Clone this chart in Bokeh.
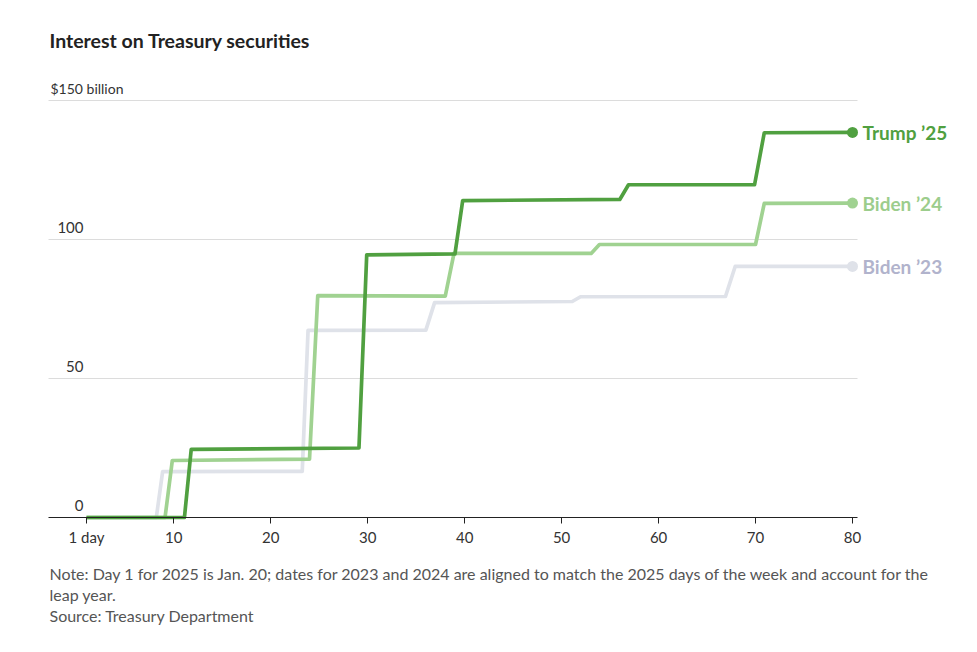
from bokeh.plotting import figure
from bokeh.models import Range1d, FixedTicker, Label
from bokeh.embed import file_html
from bokeh.resources import INLINE

# ---- data ----
trump_days = [1, 11.1, 11.8, 29.1, 29.9, 39.0, 39.8, 56.0, 56.9, 69.9, 70.9, 80]
trump_vals = [0, 0, 24.5, 25.0, 94.5, 94.8, 114.0, 114.4, 119.7, 119.7, 138.4, 138.5]

biden24_days = [1, 9.1, 9.85, 24.0, 24.85, 38.0, 38.9, 53.05, 53.9, 70.0, 70.9, 80]
biden24_vals = [0, 0, 20.5, 21.0, 79.8, 79.6, 95.0, 95.0, 98.2, 98.2, 113.0, 113.1]

biden23_days = [1, 8.2, 8.85, 23.25, 23.85, 36.0, 36.9, 51.1, 51.95, 66.9, 67.9, 80]
biden23_vals = [0, 0, 16.5, 16.6, 67.3, 67.4, 77.3, 77.7, 79.4, 79.5, 90.3, 90.3]

series_names = ["Biden \u201923", "Biden \u201924", "Trump \u201925"]
x_ticks = [1, 10, 20, 30, 40, 50, 60, 70, 80]
x_tick_labels = ["1 day", "10", "20", "30", "40", "50", "60", "70", "80"]
y_ticks = [0, 50, 100, 150]
y_tick_labels = ["0", "50", "100", "$150 billion"]

title_text = "Interest on Treasury securities"
note_lines = [
    "Note: Day 1 for 2025 is Jan. 20; dates for 2023 and 2024 are aligned to match the 2025 days of the week and account for the",
    "leap year.",
    "Source: Treasury Department",
]

FONT = "Lato"
C_TRUMP = "#50a040"
C_B24 = "#a0d291"
C_B23 = "#dfe2e9"
C_B23_TXT = "#b1b3cc"
C_B24_TXT = "#9ccd8c"
C_GRID = "#dcdcdc"

W, H = 970, 645
PX_DAY = 9.6962      # pixels per day
PX_VAL = 2.78        # pixels per billion
X0_PX, Y0_PX = 86, 517   # pixel of day 1 / value 0

def xd(px):
    return 1 + (px - X0_PX) / PX_DAY

def yd(py):
    return (Y0_PX - py) / PX_VAL

p = figure(width=W, height=H, output_backend="svg", toolbar_location=None,
           x_range=Range1d(xd(0), xd(W)), y_range=Range1d(yd(H), yd(0)),
           min_border=0)
p.outline_line_color = None
p.background_fill_color = "white"
p.border_fill_color = "white"

x_left, x_right = xd(48), xd(857)

# axes
p.yaxis.visible = False
p.xgrid.visible = False
p.ygrid.visible = False

xa = p.xaxis[0]
xa.fixed_location = 0
xa.bounds = (x_left, x_right)
xa.ticker = FixedTicker(ticks=x_ticks)
xa.major_label_overrides = {t: l for t, l in zip(x_ticks, x_tick_labels)}
xa.axis_line_color = "#222222"
xa.major_tick_line_color = "#222222"
xa.major_tick_in = 0
xa.major_tick_out = 6
xa.minor_tick_line_color = None
xa.major_label_text_font = FONT
xa.major_label_text_font_size = "15px"
xa.major_label_text_color = "#333333"
xa.major_label_standoff = 4

# horizontal grid lines
grid_vals = [t for t in y_ticks if t > 0]
p.segment(x0=[x_left] * len(grid_vals), y0=grid_vals,
          x1=[x_right] * len(grid_vals), y1=grid_vals,
          line_color=C_GRID, line_width=1)

# lines
p.line(biden23_days, biden23_vals, line_color=C_B23, line_width=3.7, line_join="round")
p.line(biden24_days, biden24_vals, line_color=C_B24, line_width=3.7, line_join="round")
p.line(trump_days, trump_vals, line_color=C_TRUMP, line_width=3.7, line_join="round")

# end dots and labels
ends = [(biden23_days, biden23_vals, C_B23, C_B23_TXT),
        (biden24_days, biden24_vals, C_B24, C_B24_TXT),
        (trump_days, trump_vals, C_TRUMP, C_TRUMP)]
for (d, v, c, tc), name in zip(ends, series_names):
    p.scatter([d[-1]], [v[-1]], size=11, fill_color=c, line_color=None)
    p.add_layout(Label(x=d[-1], y=v[-1], x_offset=10, text=name,
                       text_font=FONT, text_font_style="bold", text_font_size="19px",
                       text_color=tc, text_baseline="middle", text_align="left"))

# y tick labels
for t, l in zip(y_ticks, y_tick_labels):
    if t == 150:
        p.add_layout(Label(x=xd(50), y=t, y_offset=12, text=l, text_font=FONT,
                           text_font_size="14px", text_color="#333333",
                           text_align="left", text_baseline="middle"))
    else:
        p.add_layout(Label(x=xd(83), y=t, y_offset=12, text=l, text_font=FONT,
                           text_font_size="15px", text_color="#333333",
                           text_align="right", text_baseline="middle"))

# title
p.add_layout(Label(x=xd(49), y=yd(40), text=title_text, text_font=FONT,
                   text_font_style="bold", text_font_size="19.5px", text_color="#222222",
                   text_baseline="middle", text_align="left"))

# notes
for py, line in zip([573, 594, 615], note_lines):
    p.add_layout(Label(x=xd(49), y=yd(py), text=line, text_font=FONT,
                       text_font_size="16px", text_color="#555555",
                       text_baseline="middle", text_align="left"))

open("out.html", "w").write(file_html(p, INLINE))
